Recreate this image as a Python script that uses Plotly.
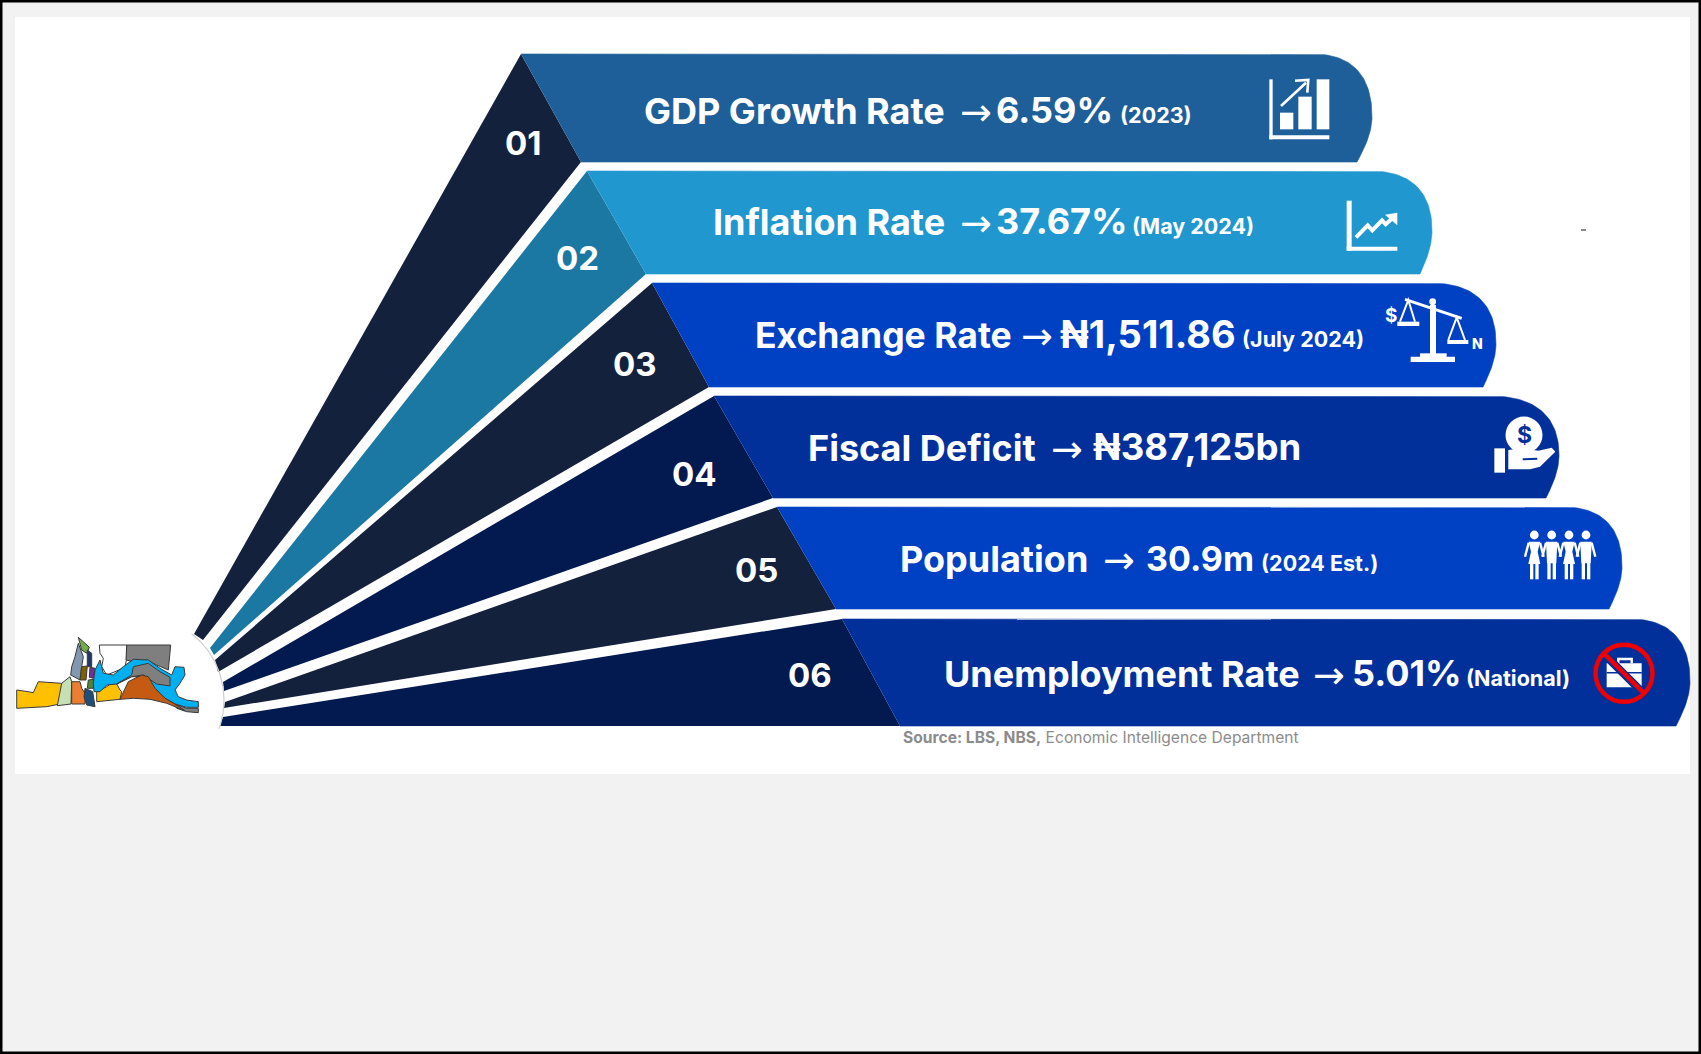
import numpy as np
import plotly.graph_objects as go

# ---- Content -------------------------------------------------------------
row_numbers = ["01", "02", "03", "04", "05", "06"]
indicators = ["GDP Growth Rate", "Inflation Rate", "Exchange Rate",
              "Fiscal Deficit", "Population", "Unemployment Rate"]
values = ["6.59%", "37.67%", "₦1,511.86", "₦387,125bn", "30.9m", "5.01%"]
notes = ["(2023)", "(May 2024)", "(July 2024)", "", "(2024 Est.)", "(National)"]
source_bold = "Source: LBS, NBS,"
source_rest = " Economic Intelligence Department"

# ---- Palette -------------------------------------------------------------
BAND_COLORS = ["#1f5f99", "#2097cf", "#0041c4", "#02309a", "#0041c4", "#02309a"]
WEDGE_COLORS = ["#14213d", "#1a78a3", "#14213d", "#021a50", "#14213d", "#021a50"]
FONT = "Inter"

# ---- Layout in page pixels -----------------------------------------------
W, H = 1701, 1054
band_top = [54, 171, 283, 396, 507, 619]
band_bottom = [162, 274, 387, 498, 609, 726]
band_left_top = [521, 587, 652, 714, 777, 842]
band_left_bottom = [581, 646, 709, 773, 836, 900]
band_arc_start = [1313, 1370, 1430, 1490, 1563, 1630]
band_right = [1372, 1432, 1496, 1559, 1622, 1690]
band_corner = [1357, 1420, 1483, 1546, 1609, 1676]
tip_upper = [(194, 634), (210, 648), (215, 660), (223, 682), (225, 702), (223, 717)]
tip_lower = [(203, 640), (214, 655), (218, 672), (224, 691), (224, 708), (220, 726)]
number_xy = [(523, 143), (577, 258), (635, 364), (694, 474), (756, 570), (810, 675)]
text_y = [111, 222, 335, 448, 559, 674]
label_x = [642, 711, 753, 806, 898, 942]
label_size = [36, 36, 35.5, 36, 36, 36]
arrow_x = [958, 958, 1019, 1049, 1101, 1311]
value_x = [994, 994, 1058, 1091, 1144, 1350]
value_size = [36, 36, 38, 36.5, 34, 36]
note_x = [1118, 1130, 1240, 1310, 1259, 1464]


def bezier(p0, p1, p2, p3, n=40):
    t = np.linspace(0, 1, n)[:, None]
    p0, p1, p2, p3 = map(np.array, (p0, p1, p2, p3))
    return (1 - t) ** 3 * p0 + 3 * (1 - t) ** 2 * t * p1 + 3 * (1 - t) * t ** 2 * p2 + t ** 3 * p3


def band_outline(i):
    top, bot = band_top[i], band_bottom[i]
    xs, xr, xc = band_arc_start[i], band_right[i], band_corner[i]
    ym = top + (bot - top) * 0.58
    upper = bezier((xs, top), (xs + (xr - xs) * 0.66, top),
                   (xr, top + (ym - top) * 0.34), (xr, ym))
    lower = bezier((xr, ym), (xr, ym + (bot - ym) * 0.4),
                   (xc + (xr - xc) * 0.4, bot - (bot - ym) * 0.25), (xc, bot))
    pts = np.vstack([[(band_left_top[i], top)], upper, lower, [(band_left_bottom[i], bot)]])
    return pts[:, 0], pts[:, 1]


fig = go.Figure()

# Fan of dark wedges that converge on the map disc
for i in range(6):
    xs = [band_left_top[i], band_left_bottom[i], tip_lower[i][0], tip_upper[i][0]]
    ys = [band_top[i], band_bottom[i], tip_lower[i][1], tip_upper[i][1]]
    fig.add_trace(go.Scatter(x=xs, y=ys, mode="lines", fill="toself",
                             fillcolor=WEDGE_COLORS[i], line=dict(width=0),
                             hoverinfo="skip", showlegend=False))

# Rounded indicator bands
for i in range(6):
    bx, by = band_outline(i)
    fig.add_trace(go.Scatter(x=bx, y=by, mode="lines", fill="toself",
                             fillcolor=BAND_COLORS[i], line=dict(width=0.6, color=BAND_COLORS[i]),
                             name=indicators[i], hoverinfo="name", showlegend=False))

# Edge of the disc behind the map
theta = np.linspace(np.radians(-52), np.radians(20), 60)
fig.add_trace(go.Scatter(x=140 + 84 * np.cos(theta), y=700 + 84 * np.sin(theta), mode="lines",
                         line=dict(color="#cfcfcf", width=1.2), hoverinfo="skip", showlegend=False))

shapes = []


def rect(x0, y0, x1, y1, fill, line=None, lw=0, layer="above"):
    shapes.append(dict(type="rect", xref="x", yref="y", x0=x0, y0=y0, x1=x1, y1=y1,
                       fillcolor=fill, line=dict(color=line or fill, width=lw), layer=layer))


def poly(points, fill=None, line=None, lw=0, close=True):
    path = "M" + " L".join(f"{x:.1f},{y:.1f}" for x, y in points) + (" Z" if close else "")
    shapes.append(dict(type="path", xref="x", yref="y", path=path,
                       fillcolor=fill if fill else "rgba(0,0,0,0)",
                       line=dict(color=line or "rgba(0,0,0,0)", width=lw), layer="above"))


def disc(cx, cy, r, fill, line=None, lw=0):
    shapes.append(dict(type="circle", xref="x", yref="y", x0=cx - r, y0=cy - r, x1=cx + r, y1=cy + r,
                       fillcolor=fill if fill else "rgba(0,0,0,0)",
                       line=dict(color=line or "rgba(0,0,0,0)", width=lw), layer="above"))


# Page frame and white panel, under everything else
shapes.append(dict(type="rect", xref="x", yref="y", x0=15, y0=17, x1=1690, y1=774,
                   fillcolor="#ffffff", line=dict(width=0), layer="below"))
shapes.append(dict(type="rect", xref="x", yref="y", x0=1, y0=1, x1=W - 1, y1=H - 1,
                   fillcolor="rgba(0,0,0,0)", line=dict(color="#000000", width=3), layer="above"))
rect(1581, 229, 1586, 231, "#8a8a8a")


# ---- Icons, sketched in a local grid at one third of a pixel ---------------
def grid(ox, oy):
    return lambda x, y: (ox + x / 3, oy + y / 3)


WHITE = "#ffffff"

# Rising bar chart
g = grid(1200, 40)
rect(*g(208, 118), *g(218, 298), WHITE)
rect(*g(208, 286), *g(388, 298), WHITE)
rect(*g(240, 218), *g(280, 268), WHITE)
rect(*g(295, 170), *g(335, 268), WHITE)
rect(*g(350, 118), *g(388, 268), WHITE)
poly([g(243, 198), g(318, 128)], line=WHITE, lw=2.6, close=False)
poly([g(285, 122), g(325, 120), g(322, 158)], line=WHITE, lw=2.6, close=False)

# Trend line
rect(*g(440, 482), *g(455, 632), WHITE)
rect(*g(440, 620), *g(592, 632), WHITE)
poly([g(468, 592), g(503, 556), g(517, 571), g(546, 541), g(557, 553), g(582, 530)],
     line=WHITE, lw=4, close=False)
poly([g(592, 518), g(555, 524), g(592, 556)], fill=WHITE)

# Balance scales
rect(*g(690, 795), *g(708, 945), WHITE)
rect(*g(660, 940), *g(740, 952), WHITE)
rect(*g(632, 950), *g(765, 966), WHITE)
poly([g(615, 778), g(785, 835)], line=WHITE, lw=3, close=False)
disc(*g(698, 785), 3.4, WHITE)
poly([g(600, 845), g(625, 780), g(645, 845)], line=WHITE, lw=2, close=False)
poly([g(745, 900), g(770, 832), g(795, 900)], line=WHITE, lw=2, close=False)
rect(*g(592, 845), *g(658, 858), WHITE)
rect(*g(742, 900), *g(805, 912), WHITE)

# Hand holding a coin
g = grid(1400, 400)
disc(*g(372, 105), 18.5, WHITE)
rect(*g(283, 145), *g(315, 218), WHITE)
poly([g(325, 150), g(365, 145), g(415, 152), g(455, 143), g(466, 155),
      g(420, 200), g(390, 208), g(325, 208)], fill=WHITE)
poly([g(368, 178), g(412, 176)], line=BAND_COLORS[3], lw=2, close=False)

# Row of four people
for k, cx in enumerate([403, 455, 507, 558]):
    disc(*g(cx, 405), 4.4, WHITE)
    if k % 2 == 0:
        poly([g(cx - 17, 425), g(cx + 17, 425), g(cx + 10, 455), g(cx + 18, 492), g(cx - 18, 492), g(cx - 10, 455)], fill=WHITE)
        rect(*g(cx - 13, 490), *g(cx - 3, 538), WHITE)
        rect(*g(cx + 3, 490), *g(cx + 13, 538), WHITE)
    else:
        poly([g(cx - 17, 425), g(cx + 17, 425), g(cx + 14, 490), g(cx - 14, 490)], fill=WHITE)
        rect(*g(cx - 13, 488), *g(cx - 3, 538), WHITE)
        rect(*g(cx + 3, 488), *g(cx + 13, 538), WHITE)
    poly([g(cx - 17, 428), g(cx - 28, 470)], line=WHITE, lw=2.4, close=False)
    poly([g(cx + 17, 428), g(cx + 28, 470)], line=WHITE, lw=2.4, close=False)

# Crossed-out briefcase
rect(*g(620, 790), *g(725, 862), WHITE)
poly([g(655, 790), g(655, 777), g(695, 777), g(695, 790)], line=WHITE, lw=2.4, close=False)
poly([g(620, 818), g(725, 818)], line=BAND_COLORS[5], lw=1.4, close=False)
poly([g(622, 772), g(722, 872)], line=BAND_COLORS[5], lw=8, close=False)
poly([g(612, 760), g(732, 880)], line="#f00000", lw=4.5, close=False)
disc(*g(672, 820), 28.5, None, line="#f00000", lw=4.5)

# ---- Regional map on the disc ---------------------------------------------
g = grid(0, 560)
MAP_EDGE = "#3a3a3a"
map_regions = [
    ("#ffc000", [(50, 390), (85, 395), (100, 398), (115, 365), (185, 370), (180, 432), (140, 440), (50, 445)]),
    ("#c5e0b4", [(185, 370), (210, 350), (215, 365), (213, 432), (172, 437)]),
    ("#ed7d31", [(215, 365), (240, 365), (245, 385), (255, 400), (255, 432), (215, 432)]),
    ("#8497b0", [(235, 250), (250, 290), (245, 320), (240, 360), (212, 345), (215, 320), (225, 290)]),
    ("#70ad47", [(235, 232), (250, 245), (268, 262), (260, 280), (245, 270)]),
    ("#203864", [(262, 270), (275, 280), (275, 320), (262, 320)]),
    ("#7f6000", [(245, 320), (262, 318), (258, 360), (240, 360)]),
    ("#7030a0", [(270, 322), (285, 325), (280, 355), (268, 352)]),
    ("#1f4e79", [(255, 385), (278, 395), (285, 440), (260, 435), (252, 410)]),
    ("#548235", [(265, 360), (282, 358), (280, 385), (262, 385)]),
    ("#ffffff", [(298, 255), (380, 255), (380, 295), (375, 322), (345, 335), (320, 345), (305, 320), (310, 295), (300, 280)]),
    ("#7f7f7f", [(380, 255), (512, 255), (505, 330), (470, 315), (440, 300), (400, 305), (378, 300)]),
    ("#ffc000", [(290, 395), (320, 380), (345, 362), (360, 390), (365, 395), (360, 418), (290, 425)]),
    ("#7f7f7f", [(520, 430), (560, 445), (595, 445), (595, 458), (560, 455), (530, 445)]),
    ("#00b0f0", [(285, 330), (300, 300), (310, 340), (340, 345), (370, 320), (400, 298), (445, 300), (480, 325), (515, 345), (525, 320), (552, 322), (555, 345), (540, 370), (525, 390), (535, 410), (560, 420), (595, 425), (595, 442), (560, 442), (525, 432), (495, 415), (465, 385), (430, 350), (395, 350), (350, 372), (320, 375), (300, 395), (282, 395), (280, 370)]),
    ("#7f7f7f", [(350, 372), (395, 345), (400, 320), (445, 310), (480, 335), (510, 352), (510, 378), (470, 372), (430, 345), (395, 350)]),
    ("#c55a11", [(360, 418), (385, 365), (425, 345), (445, 350), (465, 385), (495, 415), (525, 432), (555, 452), (500, 430), (450, 418), (400, 415)]),
]
for color, outline in map_regions:
    poly([g(x, y) for x, y in outline], fill=color, line=MAP_EDGE, lw=1)

# ---- Text -----------------------------------------------------------------
annotations = []


def label(x, y, text, size, color=WHITE, weight=600, anchor="left", family=FONT):
    annotations.append(dict(x=x, y=y, xref="x", yref="y", text=text, showarrow=False,
                            xanchor=anchor, yanchor="middle", align="left",
                            font=dict(family=family, size=size, color=color, weight=weight)))


for i in range(6):
    label(number_xy[i][0], number_xy[i][1], row_numbers[i], 33, anchor="center", weight=700)
    label(label_x[i], text_y[i], indicators[i], label_size[i], weight=700)
    label(arrow_x[i], text_y[i] + 1, "→", 38, family="DejaVu Sans", weight=400)
    label(value_x[i], text_y[i] - 1, values[i], value_size[i], weight=700)
    if notes[i]:
        label(note_x[i], text_y[i] + 4, notes[i], 21.5, weight=700)

label(1383, 315, "$", 19, weight=700)
label(1470, 343, "N", 14, weight=800)
label(*grid(1400, 400)(372, 105), "$", 23, color=BAND_COLORS[3], anchor="center", weight=700)
annotations.append(dict(x=901, y=737, xref="x", yref="y", showarrow=False, xanchor="left", yanchor="middle",
                        text=f"<b>{source_bold}</b>{source_rest}",
                        font=dict(family=FONT, size=15.6, color="#8c8c8c")))

fig.update_layout(
    width=W, height=H, autosize=False, margin=dict(l=0, r=0, t=0, b=0),
    paper_bgcolor="#f2f2f2", plot_bgcolor="rgba(0,0,0,0)", showlegend=False,
    xaxis=dict(range=[0, W], visible=False, fixedrange=True),
    yaxis=dict(range=[H, 0], visible=False, fixedrange=True),
    shapes=shapes, annotations=annotations,
)

fig.write_html("out.html", config=dict(displayModeBar=False))
